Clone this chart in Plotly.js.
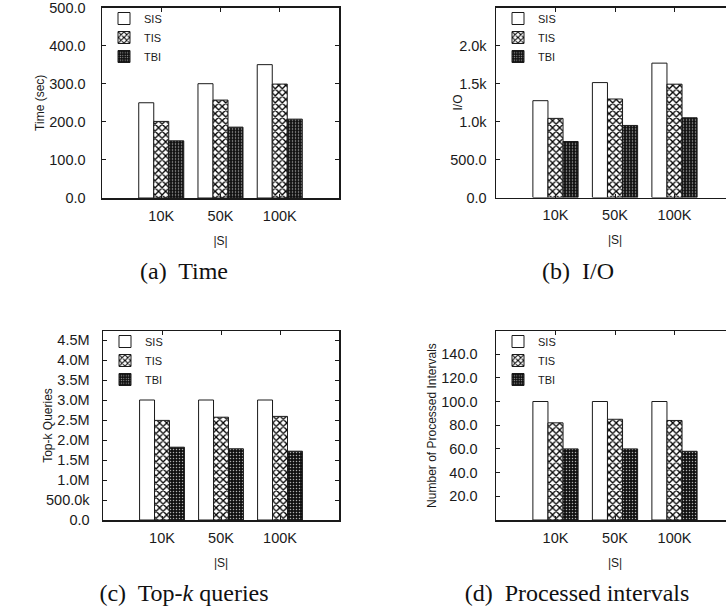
<!DOCTYPE html>
<html><head><meta charset="utf-8">
<script src="https://cdn.plot.ly/plotly-3.0.1.min.js"></script>
<style>html,body{margin:0;padding:0;overflow:hidden;background:#fff}
#wrap{position:relative;width:740px;height:610px}
.panel{position:absolute;width:370px;height:305px}</style>
</head><body><div id="wrap">
<div class="panel" id="pa" style="left:0;top:0"></div>
<div class="panel" id="pb" style="left:370px;top:0"></div>
<div class="panel" id="pc" style="left:0;top:305px"></div>
<div class="panel" id="pd" style="left:370px;top:305px"></div>
</div>
<script>
// ---- data ----
const sizes = ['10K', '50K', '100K'];
const methods = ['SIS', 'TIS', 'TBI'];

const timeSIS = [250, 300, 350];
const timeTIS = [201, 257, 299];
const timeTBI = [150, 186, 207];

const ioSIS = [1274, 1512, 1768];
const ioTIS = [1041, 1296, 1491];
const ioTBI = [737, 948, 1049];

const topkSIS = [3.0e6, 3.0e6, 3.0e6];
const topkTIS = [2.49e6, 2.57e6, 2.59e6];
const topkTBI = [1.82e6, 1.78e6, 1.72e6];

const procSIS = [100, 100, 100];
const procTIS = [82, 85, 84];
const procTBI = [60, 60, 58];

const timeTicks = [0, 100, 200, 300, 400, 500];
const timeTickText = ['0.0', '100.0', '200.0', '300.0', '400.0', '500.0'];
const ioTicks = [0, 500, 1000, 1500, 2000];
const ioTickText = ['0.0', '500.0', '1.0k', '1.5k', '2.0k'];
const topkTicks = [0, 0.5e6, 1e6, 1.5e6, 2e6, 2.5e6, 3e6, 3.5e6, 4e6, 4.5e6];
const topkTickText = ['0.0', '500.0k', '1.0M', '1.5M', '2.0M', '2.5M', '3.0M', '3.5M', '4.0M', '4.5M'];
const procTicks = [20, 40, 60, 80, 100, 120, 140];
const procTickText = ['20.0', '40.0', '60.0', '80.0', '100.0', '120.0', '140.0'];

const yTitles = ['Time (sec)', 'I/O', 'Top-k Queries', 'Number of Processed Intervals'];
const xTitle = '|S|';
const captions = ['(a)\u00a0 Time', '(b)\u00a0 I/O', '(c)\u00a0 Top-<i>k</i> queries', '(d)\u00a0 Processed intervals'];

// ---- layout helpers (pixel positions inside each 370x305 panel box) ----
const PW = 370, PH = 305;
const px = v => v / PW;
const py = v => 1 - v / PH;
const SANS = 'Liberation Sans, Arial, Helvetica, sans-serif';
const SERIF = 'Liberation Serif, Times New Roman, serif';
const INK = '#1a1a1a';

const panels = [
  {id: 'pa', sets: [timeSIS, timeTIS, timeTBI], x0: 102, x1: 339, y0: 7.5, y1: 198, range: [0, 500], tv: timeTicks, tt: timeTickText, stand: 12,
   cx: 184, cy: 271, lx: 104, ly: 4},
  {id: 'pb', sets: [ioSIS, ioTIS, ioTBI], x0: 126, x1: 364, y0: 7.5, y1: 197.5, range: [0, 2500], tv: ioTicks, tt: ioTickText, stand: 5,
   cx: 208, cy: 271, lx: 128, ly: 4},
  {id: 'pc', sets: [topkSIS, topkTIS, topkTBI], x0: 103, x1: 339, y0: 26, y1: 215, range: [0, 4.725e6], tv: topkTicks, tt: topkTickText, stand: 9,
   cx: 184, cy: 288, lx: 105, ly: 22},
  {id: 'pd', sets: [procSIS, procTIS, procTBI], x0: 126, x1: 364, y0: 26, y1: 215, range: [0, 159.5], tv: procTicks, tt: procTickText, stand: 14,
   cx: 207, cy: 288, lx: 128, ly: 22}
];

const styles = [
  {color: '#ffffff', line: {color: INK, width: 1}},
  {color: '#ffffff', line: {color: INK, width: 1},
   pattern: {shape: 'x', fillmode: 'replace', bgcolor: '#ffffff', fgcolor: '#000000', size: 5, solidity: 0.45}},
  {color: '#111111', line: {color: INK, width: 1},
   pattern: {shape: '.', fillmode: 'replace', bgcolor: '#111111', fgcolor: '#b0b0b0', size: 3, solidity: 0.2}}
];

const axisLine = {showline: true, linecolor: INK, linewidth: 1.5, ticks: 'inside', ticklen: 4, mirror: 'ticks',
                  tickcolor: INK, tickwidth: 1, showgrid: false, zeroline: false, fixedrange: true};

panels.forEach((p, i) => {
  const traces = p.sets.map((vals, k) => ({
    type: 'bar', x: sizes, y: vals, name: methods[k], marker: styles[k], hoverinfo: 'x+y+name'
  }));
  const layout = {
    width: PW, height: PH,
    margin: {l: 0, r: 0, t: 0, b: 0},
    paper_bgcolor: 'rgba(0,0,0,0)', plot_bgcolor: 'rgba(0,0,0,0)',
    barmode: 'group', bargap: 0.24, bargroupgap: 0,
    font: {family: SANS, color: INK},
    title: {text: captions[i], font: {family: SERIF, size: 24, color: '#111'},
            xref: 'paper', yref: 'paper', x: px(p.cx), y: py(p.cy), xanchor: 'center', yanchor: 'middle'},
    showlegend: true,
    legend: {x: px(p.lx), y: py(p.ly), xanchor: 'left', yanchor: 'top', bgcolor: 'rgba(0,0,0,0)', borderwidth: 0,
             font: {family: SANS, size: 11, color: INK}, itemclick: false, itemdoubleclick: false},
    xaxis: Object.assign({}, axisLine, {
      domain: [px(p.x0), px(p.x1)], type: 'category', range: [-1, 3],
      ticklabelstandoff: 4, ticklabeloverflow: 'allow',
      tickfont: {family: SANS, size: 14.5, color: INK},
      title: {text: xTitle, font: {family: SANS, size: 12, color: INK}}
    }),
    yaxis: Object.assign({}, axisLine, {
      domain: [py(p.y1), py(p.y0)], range: p.range,
      tickmode: 'array', tickvals: p.tv, ticktext: p.tt,
      ticklabelstandoff: p.stand, ticklabeloverflow: 'allow',
      tickfont: {family: SANS, size: 14.5, color: INK},
      title: {text: yTitles[i], font: {family: SANS, size: 12, color: INK}}
    })
  };
  Plotly.newPlot(p.id, traces, layout, {staticPlot: true, displayModeBar: false});
});
</script>
</body></html>
